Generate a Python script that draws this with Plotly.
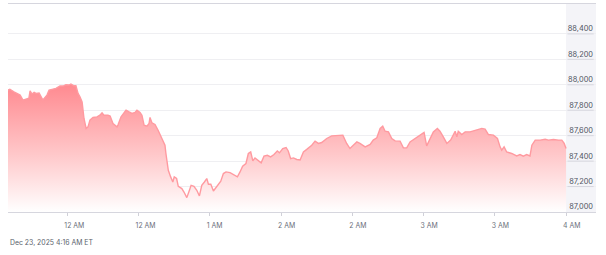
import plotly.graph_objects as go

# minutes since start of window
minutes = [0, 0.8, 2.5, 5.1, 6.3, 8.0, 8.8, 9.3, 10.1, 11.0, 11.8, 13.1, 13.9, 14.7, 16.4, 17.3,
           19.0, 20.2, 21.9, 23.2, 24.4, 25.7, 26.5, 27.8, 28.6, 29.5, 30.3, 31.2, 32.0, 32.9,
           33.7, 34.5, 35.8, 37.5, 38.7, 39.6, 40.4, 42.1, 43.0, 44.2, 45.9, 46.3, 47.6, 48.9,
           49.7, 51.0, 52.2, 53.5, 54.3, 55.6, 56.4, 57.3, 58.5, 59.4, 59.8, 60.6, 61.9, 63.2,
           64.4, 65.3, 66.1, 66.5, 67.5, 68.5, 69.4, 70.0, 71.0, 71.7, 73.2, 74.1, 75.3, 76.4,
           77.1, 78.3, 79.5, 80.6, 81.6, 82.7, 83.7, 84.4, 85.4, 86.5, 87.6, 88.6, 89.6, 90.7,
           91.8, 93.5, 94.9, 96.6, 97.7, 98.8, 100.2, 101.2, 102.2, 103.1, 104.0, 105.4, 106.6,
           107.8, 109.2, 110.6, 112.0, 113.4, 114.3, 115.7, 117.1, 118.0, 119.0, 120.2, 121.6,
           123.0, 124.4, 125.8, 127.2, 127.9, 129.3, 130.7, 132.1, 134.2, 136.3, 138.4, 141.0,
           142.6, 144.0, 145.4, 146.9, 148.2, 150.4, 152.5, 153.8, 155.3, 156.7, 157.8, 158.8,
           160.2, 161.6, 163.0, 165.1, 166.5, 167.9, 169.3, 171.4, 173.5, 175.2, 176.3, 177.7,
           179.1, 180.8, 181.9, 183.3, 184.8, 186.4, 187.5, 188.3, 189.0, 189.6, 191.1, 192.5,
           194.6, 197.4, 199.5, 200.9, 202.3, 204.4, 206.1, 207.2, 207.9, 208.9, 210.0, 212.1,
           214.2, 215.6, 217.0, 218.4, 219.8, 220.6, 222.0, 224.1, 226.2, 227.6, 229.7, 231.8,
           233.2, 234.2, 235.0]

price = [87958, 87964, 87945, 87919, 87880, 87887, 87895, 87953, 87927, 87940, 87932, 87935,
         87911, 87880, 87919, 87958, 87966, 87972, 87990, 87990, 88000, 87998, 88006, 87992,
         87992, 87932, 87905, 87866, 87735, 87657, 87669, 87722, 87743, 87748, 87761, 87780,
         87761, 87761, 87754, 87696, 87669, 87683, 87748, 87787, 87801, 87787, 87775, 87783,
         87801, 87783, 87761, 87683, 87675, 87696, 87743, 87701, 87688, 87643, 87596, 87570,
         87525, 87460, 87328, 87276, 87236, 87276, 87263, 87202, 87184, 87157, 87113, 87171,
         87210, 87202, 87171, 87126, 87210, 87236, 87263, 87218, 87218, 87165, 87192, 87224,
         87242, 87302, 87315, 87310, 87294, 87276, 87315, 87360, 87381, 87460, 87472, 87402,
         87425, 87407, 87386, 87439, 87446, 87433, 87452, 87480, 87465, 87499, 87507, 87480,
         87420, 87425, 87413, 87409, 87472, 87492, 87512, 87525, 87557, 87539, 87546, 87578,
         87598, 87602, 87604, 87539, 87499, 87525, 87551, 87539, 87512, 87531, 87565, 87583,
         87657, 87675, 87635, 87630, 87578, 87559, 87557, 87504, 87504, 87551, 87578, 87604,
         87625, 87520, 87578, 87630, 87657, 87635, 87591, 87539, 87565, 87604, 87635, 87591,
         87635, 87609, 87630, 87630, 87643, 87657, 87651, 87609, 87604, 87578, 87512, 87486,
         87512, 87472, 87460, 87441, 87452, 87439, 87452, 87441, 87525, 87565, 87565, 87572,
         87565, 87570, 87565, 87565, 87539, 87499]

tick_minutes = [25, 55, 85, 115, 145, 175, 205, 235]
tick_labels = ["12 AM", "12 AM", "1 AM", "2 AM", "2 AM", "3 AM", "3 AM", "4 AM"]
y_ticks = [87000, 87200, 87400, 87600, 87800, 88000, 88200, 88400]
y_labels = ["87,000", "87,200", "87,400", "87,600", "87,800", "88,000", "88,200", "88,400"]
timestamp_text = "Dec 23, 2025 4:16 AM ET"

x_end = 247.6
y_min, y_max = 87000, 88635

fig = go.Figure()
fig.add_trace(go.Scatter(
    x=minutes, y=price, mode="lines",
    line=dict(color="#ff9aa0", width=1.4),
    fill="tozeroy",
    fillgradient=dict(type="vertical", start=87000, stop=88000,
                      colorscale=[[0, "rgba(255,255,255,1)"], [0.45, "#ffc8ca"], [1, "#ff8a90"]]),
    hoverinfo="skip", showlegend=False,
))

# grey price-label band on the right
fig.add_shape(type="rect", xref="x", yref="paper", x0=minutes[-1], x1=x_end, y0=0, y1=1,
              fillcolor="#f4f4f8", line_width=0, layer="below")
for v in y_ticks[1:]:
    fig.add_shape(type="line", xref="x", yref="y", x0=minutes[-1] + 0.6, x1=x_end - 1.0, y0=v, y1=v,
                  line=dict(color="#d6d6de", width=1), layer="above")

fig.add_annotation(text=timestamp_text, xref="paper", yref="paper", x=0, y=-0.145,
                   xanchor="left", yanchor="middle", showarrow=False,
                   font=dict(family="Inter, Roboto, sans-serif", size=6.9, color="#5a5f6b"))

fig.update_layout(
    width=606, height=255,
    margin=dict(l=8, r=10, t=4, b=43),
    paper_bgcolor="white", plot_bgcolor="white",
    xaxis=dict(range=[0, x_end], tickmode="array", tickvals=tick_minutes, ticktext=tick_labels,
               ticklabelposition="outside right", ticklabelshift=-4, ticklabelstandoff=7,
               showgrid=False, zeroline=False, showline=True, mirror=True, linecolor="#d6d6de",
               linewidth=1, ticks="outside", ticklen=3, tickcolor="#d0d0d8",
               tickfont=dict(family="Inter, Roboto, sans-serif", size=6.9, color="#6b6f7b")),
    yaxis=dict(range=[y_min, y_max], side="right", tickmode="array", tickvals=y_ticks,
               ticktext=y_labels, ticklabelposition="inside top", showgrid=True,
               gridcolor="#efeff2", gridwidth=1, zeroline=False, showline=False, ticks="",
               tickfont=dict(family="Inter, Roboto, sans-serif", size=7.4, color="#4e5360")),
)

fig.write_html("out.html")
